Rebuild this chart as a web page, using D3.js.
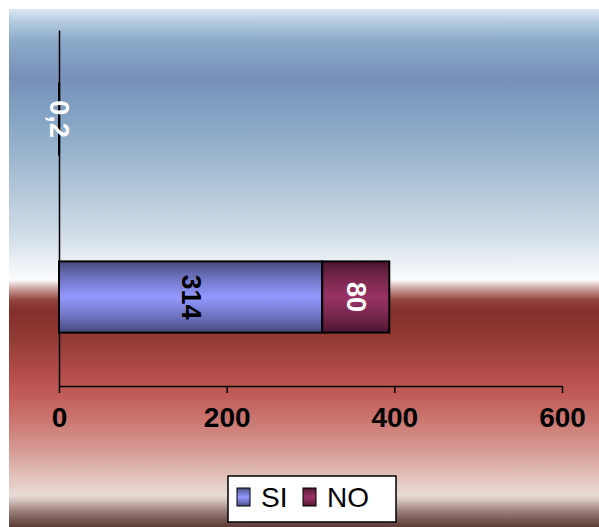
<!DOCTYPE html>
<html>
<head>
<meta charset="utf-8">
<script src="https://cdn.jsdelivr.net/npm/d3@7"></script>
<style>
	html, body { margin: 0; padding: 0; background: #fff; }
	svg { display: block; font-family: Arial, "Liberation Sans", sans-serif; }
</style>
</head>
<body>
<div id="chart"></div>
<script>
(() => {
	// data
	const categories = ['cat1', 'cat2'];
	const seriesNames = ['SI', 'NO'];
	const siValues = [null, 314];
	const noValues = [0.2, 80];
	const xTicks = [0, 200, 400, 600];

	const width = 599;
	const height = 527;
	const plot = { left: 59, right: 562, top: 30, bottom: 386 };

	const svg = d3.select('#chart').append('svg')
		.attr('width', width)
		.attr('height', height);

	const defs = svg.append('defs');

	// background gradient (y position, colour)
	const bgStops = [
		[9, '#dce8f3'], [22, '#b3cadf'], [40, '#8cabca'], [78, '#7790b9'],
		[110, '#81a0c2'], [150, '#97b2cc'], [200, '#b9cbdc'], [240, '#d5e0ea'],
		[265, '#eef2f7'], [280, '#fbfcfd'], [283, '#ecdcdb'], [290, '#c49491'],
		[300, '#93443f'], [310, '#832f2b'], [340, '#943b36'], [375, '#b44e4b'],
		[395, '#c15c58'], [420, '#cb7670'], [450, '#d69a93'], [475, '#e1bfb8'],
		[495, '#e9dcd5'], [500, '#d6c5bf'], [510, '#9f8580'], [527, '#5b3934'],
	];
	const bg = defs.append('linearGradient')
		.attr('id', 'bg')
		.attr('gradientUnits', 'userSpaceOnUse')
		.attr('x1', 0).attr('y1', 9).attr('x2', 0).attr('y2', 527);
	bg.selectAll('stop')
		.data(bgStops)
		.enter().append('stop')
			.attr('offset', d => (d[0] - 9) / 518)
			.attr('stop-color', d => d[1]);

	// bar gradients, dark at the edges, light in the middle
	const barGrad = (id, dark, mid, light) => {
		const g = defs.append('linearGradient')
			.attr('id', id)
			.attr('x1', 0).attr('y1', 0).attr('x2', 0).attr('y2', 1);
		[[0, dark], [0.2, mid], [0.5, light], [0.8, mid], [1, dark]].forEach(s => {
			g.append('stop').attr('offset', s[0]).attr('stop-color', s[1]);
		});
	};
	barGrad('gSI', '#45487a', '#6a6fbb', '#9499ff');
	barGrad('gNO', '#4a1430', '#722547', '#993366');

	svg.append('rect')
		.attr('x', 9).attr('y', 9)
		.attr('width', width - 9).attr('height', height - 9)
		.attr('fill', 'url(#bg)');

	// scales
	const x = d3.scaleLinear()
		.domain([0, 600])
		.range([plot.left, plot.right]);
	const y = d3.scaleBand()
		.domain(categories)
		.range([plot.top, plot.bottom])
		.paddingInner(0.6)
		.paddingOuter(0.3);

	const rows = categories.map((c, i) => ({ cat: c, SI: siValues[i] || 0, NO: noValues[i] || 0, raw: [siValues[i], noValues[i]] }));
	const stacked = d3.stack().keys(seriesNames)(rows);

	const fills = { SI: 'url(#gSI)', NO: 'url(#gNO)' };
	const labelColors = { SI: '#000', NO: '#fff' };
	const fmt = d3.formatLocale({ decimal: ',', thousands: '.', grouping: [3], currency: ['', ''] }).format('~g');

	// axes first, bars drawn over them
	const xAxis = svg.append('g')
		.attr('transform', `translate(0, ${plot.bottom})`)
		.call(d3.axisBottom(x).tickValues(xTicks).tickSizeInner(7).tickSizeOuter(0).tickPadding(14));
	xAxis.select('.domain').attr('stroke', '#000').attr('stroke-width', 1.5);
	xAxis.selectAll('.tick line').attr('stroke', '#000').attr('stroke-width', 1.5);
	xAxis.selectAll('.tick text')
		.attr('font-size', 28)
		.attr('font-weight', 'bold')
		.attr('font-family', 'Arial, "Liberation Sans", sans-serif')
		.attr('fill', '#000');

	const yAxis = svg.append('g')
		.attr('transform', `translate(${plot.left}, 0)`)
		.call(d3.axisLeft(y).tickSize(0).tickFormat(''));
	yAxis.select('.domain').attr('stroke', '#000').attr('stroke-width', 1.5);

	const chart = svg.append('g');

	stacked.forEach((layer, si) => {
		const data = layer.filter(d => d.data.raw[si] != null);
		chart.append('g')
			.selectAll('rect')
			.data(data)
			.enter().append('rect')
				.attr('x', d => x(d[0]))
				.attr('y', d => y(d.data.cat))
				.attr('width', d => x(d[1]) - x(d[0]))
				.attr('height', y.bandwidth())
				.attr('fill', fills[layer.key])
				.attr('stroke', '#000')
				.attr('stroke-width', 2);

		chart.append('g')
			.selectAll('text')
			.data(data)
			.enter().append('text')
				.attr('transform', d => `translate(${(x(d[0]) + x(d[1])) / 2}, ${y(d.data.cat) + y.bandwidth() / 2}) rotate(90)`)
				.attr('text-anchor', 'middle')
				.attr('dominant-baseline', 'central')
				.attr('font-size', 27)
				.attr('font-weight', 'bold')
				.attr('fill', labelColors[layer.key])
				.text(d => fmt(d.data.raw[si]));
	});

	// legend
	const legend = svg.append('g').attr('transform', 'translate(228, 476)');
	legend.append('rect')
		.attr('width', 168).attr('height', 46)
		.attr('fill', '#fff')
		.attr('stroke', '#000')
		.attr('stroke-width', 1.5);
	const legendX = [9, 75];
	seriesNames.forEach((s, i) => {
		legend.append('rect')
			.attr('x', legendX[i]).attr('y', 12)
			.attr('width', 13).attr('height', 18)
			.attr('fill', fills[s])
			.attr('stroke', '#000')
			.attr('stroke-width', 1);
		legend.append('text')
			.attr('x', legendX[i] + 24).attr('y', 31)
			.attr('font-size', 28)
			.attr('fill', '#000')
			.text(s);
	});
})();
</script>
</body>
</html>
